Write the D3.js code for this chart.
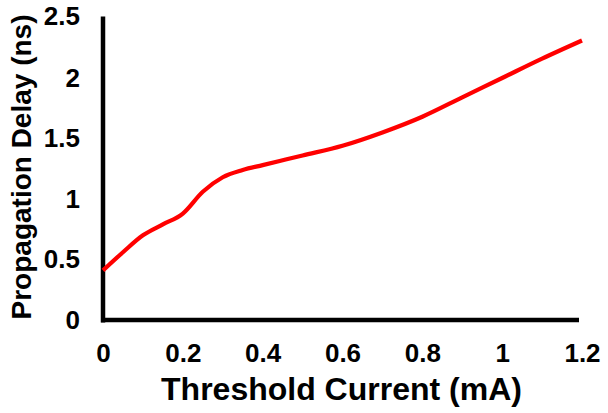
<!DOCTYPE html>
<html>
<head>
<meta charset="utf-8">
<script src="https://cdn.jsdelivr.net/npm/d3@7"></script>
<style>
  html, body { margin: 0; padding: 0; background: #fff; }
  svg { display: block; }
  text { font-family: "Liberation Sans", Arial, sans-serif; font-weight: bold; fill: #000; }
</style>
</head>
<body>
<svg id="chart" width="608" height="413"></svg>
<script>
const currentMA = [0, 0.05, 0.1, 0.15, 0.2, 0.25, 0.3, 0.35, 0.4, 0.45, 0.5, 0.6, 0.7, 0.8, 0.9, 1.0, 1.1, 1.2];
const delayNs   = [0.41, 0.56, 0.70, 0.79, 0.88, 1.06, 1.18, 1.24, 1.28, 1.32, 1.36, 1.44, 1.55, 1.68, 1.84, 2.00, 2.16, 2.31];
const xTicks = [0, 0.2, 0.4, 0.6, 0.8, 1, 1.2];
const yTicks = [0, 0.5, 1, 1.5, 2, 2.5];
const xTitle = "Threshold Current (mA)";
const yTitle = "Propagation Delay (ns)";

const svg = d3.select("#chart");
const x = d3.scaleLinear().domain([0, 1.2]).range([103, 582]);
const y = d3.scaleLinear().domain([0, 2.5]).range([320, 17.5]);

// axes lines
svg.append("line").attr("x1", x(0)).attr("x2", x(0))
  .attr("y1", y(2.5) - 1).attr("y2", y(0) + 2.5)
  .attr("stroke", "#000").attr("stroke-width", 4.5);
svg.append("line").attr("x1", x(0) - 2).attr("x2", 579)
  .attr("y1", y(0)).attr("y2", y(0))
  .attr("stroke", "#000").attr("stroke-width", 4.5);

const fmt = d => String(d);

const gx = svg.append("g").attr("transform", `translate(0,${y(0)})`)
  .call(d3.axisBottom(x).tickValues(xTicks).tickFormat(fmt).tickSize(0).tickPadding(23.5));
gx.select(".domain").remove();
gx.selectAll("text").style("font-size", "26px").style("font-family", "'Liberation Sans', Arial, sans-serif").style("font-weight", "bold").attr("fill", "#000");

const gy = svg.append("g").attr("transform", `translate(${x(0)},0)`)
  .call(d3.axisLeft(y).tickValues(yTicks).tickFormat(fmt).tickSize(0).tickPadding(23));
gy.select(".domain").remove();
gy.selectAll("text").style("font-size", "26px").style("font-family", "'Liberation Sans', Arial, sans-serif").style("font-weight", "bold").attr("fill", "#000");
gy.selectAll(".tick").filter(d => d === 2.5).select("text").attr("dy", "0.25em");

// titles
svg.append("text").attr("x", 341.5).attr("y", 400).attr("text-anchor", "middle")
  .style("font-size", "32px").text(xTitle);
svg.append("text").attr("transform", "translate(31,167) rotate(-90)").attr("text-anchor", "middle")
  .style("font-size", "28px").text(yTitle);

// curve
const data = currentMA.map((c, i) => ({ c, d: delayNs[i] }));
const line = d3.line().x(p => x(p.c)).y(p => y(p.d)).curve(d3.curveMonotoneX);
svg.append("path").datum(data).attr("d", line)
  .attr("fill", "none").attr("stroke", "#ff0000").attr("stroke-width", 4.2)
  .attr("stroke-linecap", "butt").attr("stroke-linejoin", "round");
</script>
</body>
</html>
